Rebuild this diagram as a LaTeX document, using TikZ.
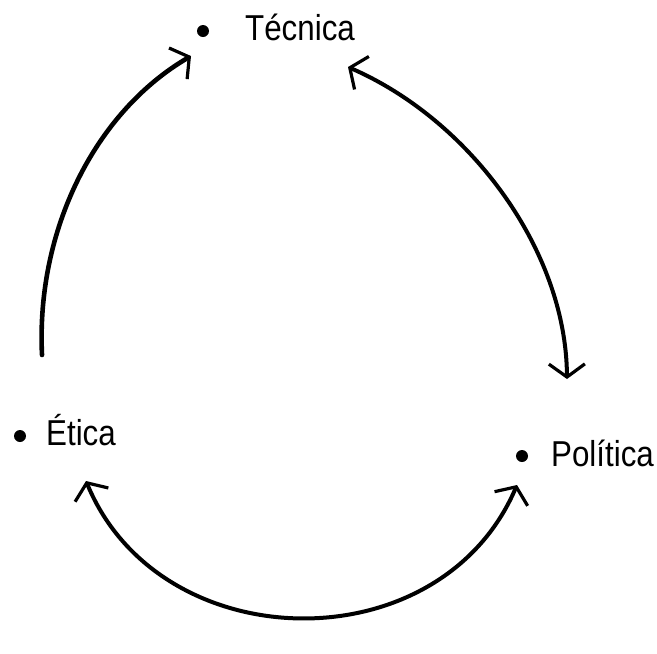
\documentclass[tikz,border=0pt]{standalone}
\usepackage{fontspec}
\setmainfont{Liberation Sans}
\usetikzlibrary{arrows.meta}
\begin{document}
\begin{tikzpicture}[x=1pt,y=-1pt,
  lbl/.style={anchor=base west,inner sep=0pt,font=\fontsize{36}{40}\selectfont,xscale=0.87},
  bul/.style={circle,fill=black,inner sep=0pt,minimum size=12pt},
  tipb/.tip={Straight Barb[length=13pt,width=36pt,line width=3.2pt]},
  arcone/.style={line width=4.6pt,line cap=round,arrows={-tipb}},
  arctwo/.style={line width=4pt,line cap=round,arrows={tipb-tipb}}]
\useasboundingbox (0,0) rectangle (657,654);
\node[bul] (b1) at (203,31) {};
\node[lbl] (t1) at (245,40) {Técnica};
\node[bul] (b2) at (20,436) {};
\node[lbl] (t2) at (46,445) {Ética};
\node[bul] (b3) at (522,456) {};
\node[lbl] (t3) at (551,466) {Política};
\coordinate (l1) at (42,355);
\coordinate (l2) at (191,56);
\coordinate (r1) at (348,67);
\coordinate (r2) at (567,379);
\coordinate (d1) at (86,481);
\coordinate (d2) at (517,485);
\draw[arcone] (l1) .. controls (36,230) and (95,112) .. (l2);
\draw[arctwo] (r1) .. controls (470,120) and (566,250) .. (r2);
\draw[arctwo] (d1) .. controls (160,660) and (440,665) .. (d2);
\end{tikzpicture}
\end{document}
